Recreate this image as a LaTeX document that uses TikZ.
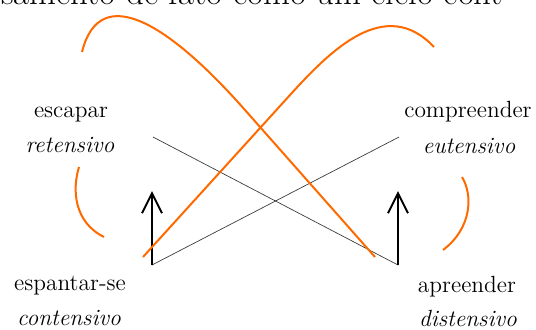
\documentclass[tikz,border=0pt]{standalone}
\usetikzlibrary{arrows.meta}
\definecolor{laranja}{HTML}{FF6A00}
\definecolor{traco}{HTML}{3C3C3C}
\tikzset{termo/.style={anchor=base,inner sep=0pt,font=\fontsize{11.7}{14}\selectfont}, modo/.style={termo,font=\fontsize{11.7}{14}\selectfont\itshape}, curva/.style={draw=laranja,line width=1pt}, eixo/.style={draw=traco,line width=0.35pt}, seta/.style={-{Straight Barb[length=10pt,width=10pt]},line width=1pt}}
\begin{document}
\begin{tikzpicture}[x=0.5pt,y=-0.5pt]
\useasboundingbox (0,0) rectangle (536,329);
\clip (0,0) rectangle (536,329);
\node[anchor=base west,inner sep=0pt,font=\fontsize{17.4}{20}\selectfont] (frase) at (-17,4) {nsamento de fato como um ciclo cont};
\node[termo] (escapar) at (71,117) {escapar};
\node[modo] (retensivo) at (70,152) {retensivo};
\node[termo] (compreender) at (468,117) {compreender};
\node[modo] (eutensivo) at (469,153) {eutensivo};
\node[termo] (espantar) at (70,290) {espantar-se};
\node[modo] (contensivo) at (69,325) {contensivo};
\node[termo] (apreender) at (467,292) {apreender};
\node[modo] (distensivo) at (468,326) {distensivo};
\coordinate (lb) at (152,265); \coordinate (lh) at (152,191);
\coordinate (rb) at (398,265); \coordinate (rh) at (398,191);
\coordinate (lt) at (153,137); \coordinate (rt) at (399,137);
\draw[eixo] (lt) -- (rb);
\draw[eixo] (lb) -- (rt);
\draw[seta] (lb) -- (lh);
\draw[seta] (rb) -- (rh);
\draw[curva] (82,52) .. controls (100,-20) and (170,25) .. (245,110) -- (375,257);
\draw[curva] (143,257) -- (290,95) .. controls (330,51) and (385,-5) .. (434,47);
\draw[curva] (79,167) .. controls (72,190) and (74,222) .. (104,237);
\draw[curva] (462,177) .. controls (473,195) and (472,228) .. (443,250);
\end{tikzpicture}
\end{document}
